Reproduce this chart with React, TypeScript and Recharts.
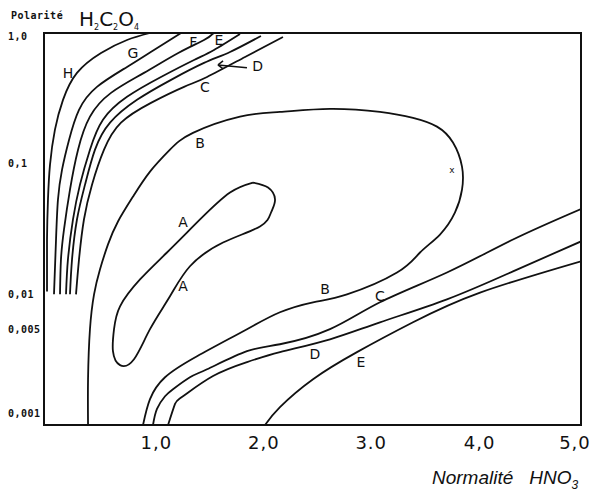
import React from "react";
import {
  LineChart,
  Line,
  XAxis,
  YAxis,
  ReferenceArea,
  ReferenceDot,
  ReferenceLine,
} from "recharts";

// Normalité HNO3 (x) vs molarité H2C2O4 (y, log) — contour curves
const curveH: [number, number][] = [
  [0.987, 1.0], [0.773, 0.884], [0.531, 0.703], [0.307, 0.495], [0.177, 0.308],
  [0.102, 0.182], [0.056, 0.0983], [0.037, 0.0531], [0.028, 0.0263], [0.028, 0.0105],
];
const curveG: [number, number][] = [
  [1.276, 1.0], [1.024, 0.742], [0.773, 0.55], [0.493, 0.387], [0.326, 0.258],
  [0.233, 0.152], [0.168, 0.09], [0.13, 0.0531], [0.112, 0.0263], [0.093, 0.01],
];
const curveF: [number, number][] = [
  [1.58, 1.0], [1.49, 0.884], [1.25, 0.703], [0.931, 0.495], [0.624, 0.348],
  [0.428, 0.229], [0.317, 0.128], [0.242, 0.0633], [0.186, 0.0313], [0.158, 0.0185], [0.149, 0.01],
];
const curveE: [number, number][] = [
  [1.825, 0.983], [1.583, 0.742], [1.397, 0.622], [1.089, 0.461], [0.773, 0.325],
  [0.549, 0.217], [0.428, 0.128], [0.335, 0.0691], [0.27, 0.0374], [0.223, 0.0185], [0.205, 0.01],
];
const curveDUpper: [number, number][] = [
  [2.02, 0.949], [1.732, 0.716], [1.49, 0.59], [1.183, 0.438], [0.866, 0.308],
  [0.615, 0.206], [0.475, 0.128], [0.382, 0.0691], [0.307, 0.0374], [0.261, 0.0185], [0.242, 0.01],
];
const curveCUpper: [number, number][] = [
  [2.225, 0.932], [1.872, 0.656], [1.518, 0.461], [1.304, 0.387], [0.996, 0.292],
  [0.717, 0.206], [0.559, 0.128], [0.447, 0.0691], [0.372, 0.0374], [0.326, 0.0185], [0.298, 0.01],
];
const curveB: [number, number][] = [
  [0.41, 0.001], [0.41, 0.00224], [0.428, 0.00541], [0.466, 0.01], [0.521, 0.0155],
  [0.596, 0.0241], [0.689, 0.0361], [0.829, 0.056], [0.987, 0.0869], [1.173, 0.128],
  [1.387, 0.172], [1.825, 0.229], [2.197, 0.249], [2.663, 0.263], [3.128, 0.249],
  [3.436, 0.224], [3.659, 0.192], [3.808, 0.145], [3.892, 0.0949], [3.892, 0.0633],
  [3.827, 0.0423], [3.687, 0.0287], [3.501, 0.0209], [3.287, 0.0147], [2.821, 0.01],
  [2.505, 0.00869], [2.197, 0.00729], [1.89, 0.00541], [1.425, 0.00336], [1.127, 0.00232],
  [0.987, 0.00158], [0.922, 0.001],
];
const curveCLower: [number, number][] = [
  [1.015, 0.001], [1.052, 0.00133], [1.127, 0.00166], [1.201, 0.00188], [1.359, 0.00232],
  [1.518, 0.00267], [1.89, 0.00367], [2.197, 0.00415], [2.663, 0.00541], [3.128, 0.00869],
  [3.752, 0.0147], [4.367, 0.0263], [5.0, 0.045],
];
const curveDLower: [number, number][] = [
  [1.155, 0.001], [1.22, 0.00145], [1.294, 0.00166], [1.574, 0.00237], [1.89, 0.00303],
  [2.197, 0.00361], [2.663, 0.00453], [3.128, 0.00611], [3.752, 0.00916], [4.367, 0.015], [5.0, 0.0254],
];
const curveELower: [number, number][] = [
  [2.058, 0.001], [2.197, 0.00137], [2.505, 0.00224], [2.914, 0.00361], [3.436, 0.00611],
  [4.06, 0.0103], [5.0, 0.0179],
];
const curveA: [number, number][] = [
  [1.946, 0.0716], [2.086, 0.0656], [2.151, 0.0531], [2.114, 0.0423], [2.011, 0.0331],
  [1.667, 0.0249], [1.359, 0.0164], [1.173, 0.00966], [0.987, 0.00541], [0.838, 0.00319],
  [0.708, 0.00287], [0.642, 0.00367], [0.652, 0.00541], [0.708, 0.0081], [0.894, 0.013],
  [1.145, 0.0209], [1.453, 0.0374], [1.732, 0.0601], [1.946, 0.0716],
];

const curves = [
  curveH, curveG, curveF, curveE, curveDUpper, curveCUpper,
  curveB, curveCLower, curveDLower, curveELower, curveA,
];

// curve letters placed on the chart
const curveLabels: { t: string; x: number; y: number }[] = [
  { t: "H", x: 0.223, y: 0.495 },
  { t: "G", x: 0.829, y: 0.703 },
  { t: "F", x: 1.39, y: 0.85 },
  { t: "E", x: 1.629, y: 0.884 },
  { t: "D", x: 1.99, y: 0.56 },
  { t: "C", x: 1.499, y: 0.387 },
  { t: "B", x: 1.453, y: 0.145 },
  { t: "A", x: 1.294, y: 0.0355 },
  { t: "A", x: 1.294, y: 0.0115 },
  { t: "B", x: 2.616, y: 0.0109 },
  { t: "C", x: 3.128, y: 0.00966 },
  { t: "D", x: 2.523, y: 0.00348 },
  { t: "E", x: 2.952, y: 0.00303 },
];
const crossMark = { x: 3.799, y: 0.09 };
const arrowD: [number, number][] = [[1.62, 0.57], [1.89, 0.541]];
const arrowHead: [number, number][] = [[1.667, 0.611], [1.62, 0.57], [1.667, 0.531]];

const xTicks = [1, 2, 3, 4, 5];
const xTickLabels = ["1,0", "2,0", "3.0", "4,0", "5,0"];
const yTicks = [1, 0.1, 0.01, 0.005, 0.001];
const yTickLabels = ["1,0", "0,1", "0,01", "0,005", "0,001"];

const yTickDy = [3, 0, 0, -4, -12];
const xTickDx = [5, 5, 5, 6, -6];

const toObj = (c: [number, number][]) => c.map(([x, y]) => ({ x, y }));

const INK = "#111";

const XTick = (props: any) => {
  const { x, payload } = props;
  const i = xTicks.indexOf(payload.value);
  return (
    <text
      x={x + (xTickDx[i] ?? 0)}
      y={442}
      textAnchor="middle"
      dominantBaseline="central"
      fontFamily="DejaVu Sans"
      fontSize={18}
      letterSpacing={1}
      fill={INK}
    >
      {xTickLabels[i]}
    </text>
  );
};

const YTick = (props: any) => {
  const { y, payload } = props;
  const i = yTicks.indexOf(payload.value);
  return (
    <text
      x={8}
      y={y + (yTickDy[i] ?? 0)}
      textAnchor="start"
      dominantBaseline="central"
      fontFamily="DejaVu Sans Mono"
      fontWeight="bold"
      fontSize={10}
      letterSpacing={0.5}
      fill={INK}
    >
      {yTickLabels[i]}
    </text>
  );
};

export default function App() {
  return (
    <div
      style={{
        position: "absolute",
        left: 0,
        top: 0,
        width: 593,
        height: 495,
        background: "#fff",
      }}
    >
      <LineChart
        width={593}
        height={495}
        margin={{ top: 33, right: 12, bottom: 0, left: 0 }}
      >
        <XAxis
          type="number"
          dataKey="x"
          domain={[0, 5]}
          ticks={xTicks}
          allowDataOverflow
          height={70}
          axisLine={false}
          tickLine={false}
          tick={<XTick />}
        />
        <YAxis
          type="number"
          dataKey="y"
          scale="log"
          domain={[0.001, 1]}
          ticks={yTicks}
          allowDataOverflow
          width={44}
          axisLine={false}
          tickLine={false}
          tick={<YTick />}
        />
        <ReferenceArea
          x1={0}
          x2={5}
          y1={0.001}
          y2={1}
          fill="none"
          fillOpacity={0}
          stroke={INK}
          strokeWidth={2}
          ifOverflow="visible"
        />
        {curves.map((c, i) => (
          <Line
            key={i}
            data={toObj(c)}
            dataKey="y"
            type="natural"
            stroke={INK}
            strokeWidth={1.8}
            dot={false}
            activeDot={false}
            isAnimationActive={false}
          />
        ))}
        <ReferenceLine
          segment={arrowD.map(([x, y]) => ({ x, y }))}
          stroke={INK}
          strokeWidth={1.5}
          ifOverflow="visible"
        />
        <ReferenceLine
          segment={[arrowHead[0], arrowHead[1]].map(([x, y]) => ({ x, y }))}
          stroke={INK}
          strokeWidth={1.5}
          ifOverflow="visible"
        />
        <ReferenceLine
          segment={[arrowHead[1], arrowHead[2]].map(([x, y]) => ({ x, y }))}
          stroke={INK}
          strokeWidth={1.5}
          ifOverflow="visible"
        />
        {curveLabels.map((l, i) => (
          <ReferenceDot
            key={"l" + i}
            x={l.x}
            y={l.y}
            r={1}
            fill="none"
            stroke="none"
            ifOverflow="visible"
            label={{
              value: l.t,
              position: "center",
              fontFamily: "DejaVu Sans",
              fontSize: 14,
              fill: INK,
            }}
          />
        ))}
        <ReferenceDot
          x={crossMark.x}
          y={crossMark.y}
          r={1}
          fill="none"
          stroke="none"
          ifOverflow="visible"
          label={{ value: "x", position: "center", fontSize: 9, fill: INK, fontFamily: "DejaVu Sans" }}
        />
      </LineChart>
      <svg
        width={593}
        height={495}
        style={{ position: "absolute", left: 0, top: 0, pointerEvents: "none" }}
      >
        <text
          x={11}
          y={19}
          fontFamily="DejaVu Sans Mono"
          fontWeight="bold"
          fontSize={10}
          letterSpacing={0.5}
          fill={INK}
        >
          Polarité
        </text>
        <text x={79} y={26} fontFamily="DejaVu Sans" fontSize={20} fill={INK}>
          H<tspan fontSize={8} dy={4}>2</tspan>
          <tspan dy={-4}>C</tspan>
          <tspan fontSize={8} dy={4}>2</tspan>
          <tspan dy={-4}>O</tspan>
          <tspan fontSize={8} dy={4}>4</tspan>
        </text>
        <text
          x={432}
          y={484}
          fontFamily="Liberation Sans"
          fontStyle="italic"
          fontSize={19}
          fill={INK}
        >
          Normalité
          <tspan dx={16}>HNO</tspan>
          <tspan fontSize={12} dy={5}>3</tspan>
        </text>
      </svg>
    </div>
  );
}
